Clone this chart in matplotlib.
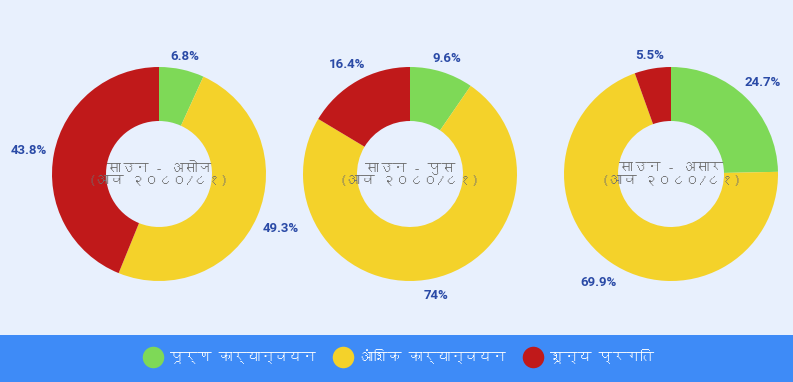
import numpy as np
import matplotlib
matplotlib.use("Agg")
import matplotlib.pyplot as plt
from matplotlib import font_manager
from matplotlib.ft2font import FT2Font
from matplotlib.lines import Line2D
from matplotlib.patches import Rectangle

# ---- data ----
categories = ["पूर्ण कार्यान्वयन", "आंशिक कार्यान्वयन", "शून्य प्रगति"]
colors = ["#7ed957", "#f4d22a", "#c0191a"]
period_titles = ["साउन - असोज", "साउन - पुस", "साउन - असार"]
fiscal_year = "(आव २०८०/८१)"
q1_values = [6.8, 49.3, 43.8]
q2_values = [9.6, 74, 16.4]
q3_values = [24.7, 69.9, 5.5]
series = [q1_values, q2_values, q3_values]

# ---- find a font with Devanagari ----
deva = None
for f in font_manager.fontManager.ttflist:
    try:
        cm = FT2Font(f.fname).get_charmap()
        if 0x0915 in cm and 0x0905 in cm:
            deva = f.name
            break
    except Exception:
        pass
fam = ([deva] if deva else []) + ["DejaVu Sans"]
plt.rcParams["font.family"] = fam

W, H = 793, 382
BG = "#e8f0fd"
fig = plt.figure(figsize=(W / 100, H / 100), dpi=100)
fig.patch.set_facecolor(BG)

# legend band
fig.patches.append(Rectangle((0, 0), 1, 47 / H, transform=fig.transFigure,
                             facecolor="#3e8bf7", edgecolor="none", zorder=0))

R = 107   # outer radius px
RIN = 53  # inner radius px
half = 1.3
centers = [159, 410, 671]
cy = H - 174
pending = []
for cx, vals, title in zip(centers, series, period_titles):
    size = 2 * half * R
    ax = fig.add_axes([(cx - size / 2) / W, (cy - size / 2) / H, size / W, size / H])
    wedges, _ = ax.pie(vals, colors=colors, startangle=90, counterclock=False,
                       radius=1.0, wedgeprops=dict(width=1 - RIN / R, edgecolor="none"))
    ax.set_xlim(-half, half)
    ax.set_ylim(-half, half)
    ax.set_aspect("equal")
    ax.axis("off")
    for w, v in zip(wedges, vals):
        ang = np.deg2rad((w.theta1 + w.theta2) / 2)
        t = ax.text(0, 0, "%g%%" % v, ha="center", va="center", color="#2a4aa6",
                    fontsize=9.5, fontweight="bold", family=["Roboto", "DejaVu Sans"],
                    clip_on=False)
        pending.append((ax, t, ang))
    ax.text(0, 0.0, title + "\n" + fiscal_year, ha="center", va="center",
            fontsize=10, color="#6e6e6e", linespacing=1.0, zorder=4,
            family=fam, fontweight="bold")

# position value labels just outside the ring, offset by their own extent
fig.canvas.draw()
renderer = fig.canvas.get_renderer()
for ax, t, ang in pending:
    bb = t.get_window_extent(renderer)
    hw, hh = bb.width / 2, bb.height / 2
    r_px = R + 6 + hw * abs(np.cos(ang)) + hh * abs(np.sin(ang))
    t.set_position((r_px / R * np.cos(ang), (r_px * np.sin(ang) - 2) / R))

handles = [Line2D([], [], marker="o", linestyle="none", markersize=15.5,
                  markerfacecolor=c, markeredgecolor="none") for c in colors]
leg = fig.legend(handles, categories, loc="center", bbox_to_anchor=(0.5, 26 / H),
                 ncol=3, frameon=False, labelcolor="white",
                 handletextpad=0.2, columnspacing=1.0,
                 prop={"family": fam, "size": 10})

fig.savefig("out.png", dpi=100, facecolor=fig.get_facecolor())
